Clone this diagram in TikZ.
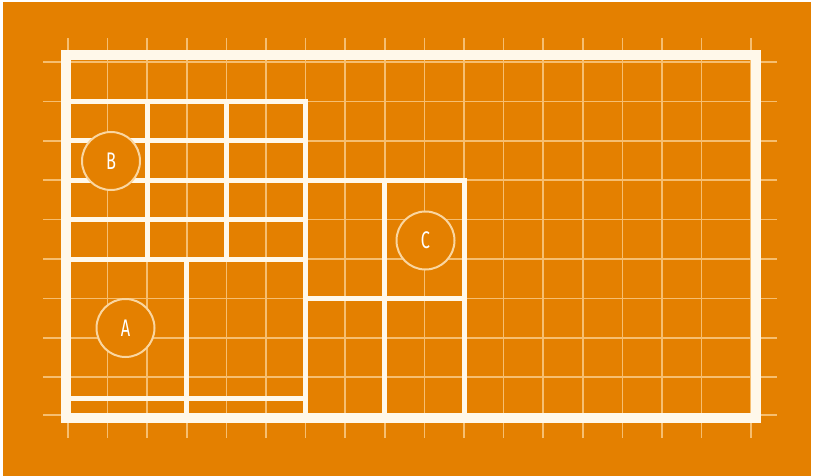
\documentclass[tikz,border=0pt]{standalone}
\usepackage{fontspec}
\newfontfamily\lblfont{Fira Sans}[FakeStretch=0.68]
\definecolor{bgorange}{RGB}{228,128,0}
\definecolor{gridc}{RGB}{246,190,112}
\definecolor{thickc}{RGB}{255,248,234}
\definecolor{ringc}{RGB}{250,214,160}
\tikzset{
  gridline/.style={draw=gridc, line width=1.6pt},
  divider/.style={draw=thickc, line width=5pt, line cap=rect},
  frame/.style={draw=thickc, line width=10pt, line join=miter},
  marker/.style={circle, draw=ringc, line width=2pt, fill=bgorange, minimum size=58pt, inner sep=0pt,
    text=white, font=\lblfont\fontsize{24}{24}\selectfont}
}
\begin{document}
\begin{tikzpicture}[x=1pt,y=-1pt]
\useasboundingbox (0,0) rectangle (816,476);
\fill[white] (0,0) rectangle (816,476);
\fill[bgorange] (3,2) rectangle (811,476);
% thin grid
\foreach \x in {68,107.6,147.2,186.8,226.4,266,305.6,345.2,384.8,424.4,464,503.6,543.2,582.8,622.4,662,701.6,751}
  \draw[gridline] (\x,38) -- (\x,438);
\foreach \y in {62,101.4,140.8,180.2,219.6,259,298.4,337.8,377.2,415}
  \draw[gridline] (43,\y) -- (777,\y);
% block B
\foreach \y in {101.4,140.8,180.2,219.6,259}
  \draw[divider] (65.5,\y) -- (305.6,\y);
\foreach \x in {147.2,226.4}
  \draw[divider] (\x,101.4) -- (\x,259);
\draw[divider] (305.6,101.4) -- (305.6,418);
% block A
\draw[divider] (186.8,259) -- (186.8,418);
\draw[divider] (65.5,398) -- (305.6,398);
% block C
\draw[divider] (305.6,180.2) -- (464,180.2);
\draw[divider] (305.6,298.4) -- (464,298.4);
\draw[divider] (384.8,180.2) -- (384.8,418);
\draw[divider] (464,180.2) -- (464,418);
% outer frame
\draw[frame] (65.5,55.5) rectangle (755.5,418);
% markers
\node[marker] (B) at (111,161) {B};
\node[marker] (A) at (125.5,328) {A};
\node[marker] (C) at (425.5,240.5) {C};
\end{tikzpicture}
\end{document}
